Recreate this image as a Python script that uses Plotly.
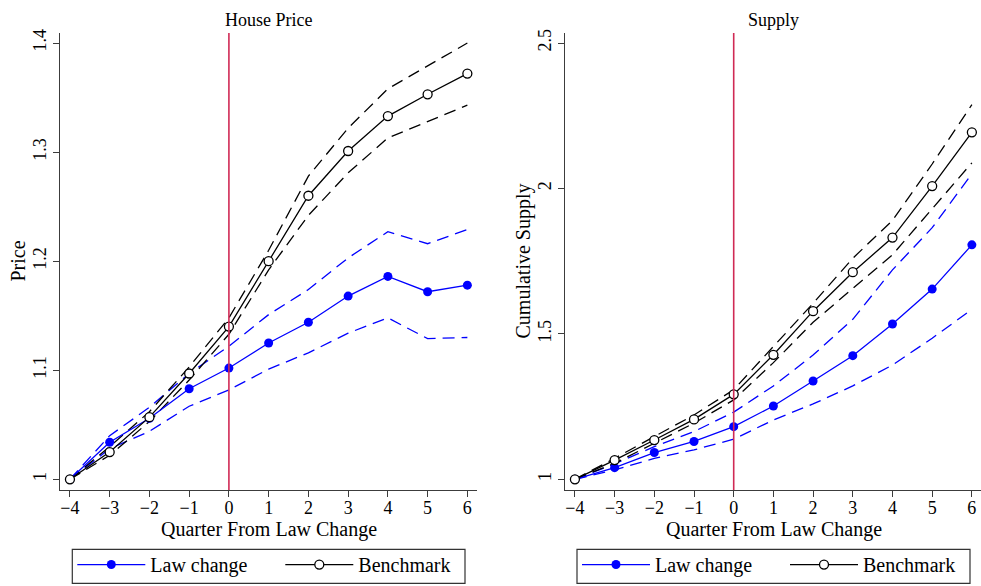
import plotly.graph_objects as go

# Quarters relative to the law change
quarters = [-4, -3, -2, -1, 0, 1, 2, 3, 4, 5, 6]

# House price index (panel 1)
price_law = [1.000, 1.034, 1.056, 1.083, 1.102, 1.125, 1.144, 1.168, 1.186, 1.172, 1.178]
price_law_hi = [1.000, 1.040, 1.066, 1.097, 1.122, 1.151, 1.174, 1.203, 1.227, 1.216, 1.229]
price_law_lo = [1.000, 1.028, 1.044, 1.067, 1.082, 1.101, 1.116, 1.134, 1.148, 1.129, 1.130]
price_bench = [1.000, 1.025, 1.057, 1.097, 1.140, 1.200, 1.260, 1.301, 1.333, 1.353, 1.372]
price_bench_hi = [1.000, 1.030, 1.062, 1.103, 1.148, 1.210, 1.278, 1.322, 1.358, 1.379, 1.400]
price_bench_lo = [1.000, 1.022, 1.053, 1.091, 1.133, 1.192, 1.242, 1.281, 1.313, 1.328, 1.343]

# Cumulative supply (panel 2)
supply_law = [1.000, 1.040, 1.092, 1.130, 1.181, 1.252, 1.338, 1.425, 1.534, 1.654, 1.806]
supply_law_hi = [1.000, 1.053, 1.112, 1.164, 1.231, 1.321, 1.427, 1.550, 1.720, 1.865, 2.050]
supply_law_lo = [1.000, 1.032, 1.072, 1.101, 1.138, 1.204, 1.259, 1.321, 1.393, 1.485, 1.584]
supply_bench = [1.000, 1.066, 1.135, 1.206, 1.292, 1.428, 1.578, 1.712, 1.831, 2.008, 2.193]
supply_bench_hi = [1.000, 1.072, 1.147, 1.221, 1.308, 1.456, 1.605, 1.760, 1.890, 2.084, 2.288]
supply_bench_lo = [1.000, 1.055, 1.124, 1.193, 1.273, 1.401, 1.540, 1.657, 1.772, 1.930, 2.088]

x_ticks = [-4, -3, -2, -1, 0, 1, 2, 3, 4, 5, 6]
price_ticks = [1, 1.1, 1.2, 1.3, 1.4]
price_tick_text = ["1", "1.1", "1.2", "1.3", "1.4"]
supply_ticks = [1, 1.5, 2, 2.5]
supply_tick_text = ["1", "1.5", "2", "2.5"]

panel_titles = ["House Price", "Supply"]
y_titles = ["Price", "Cumulative Supply"]
x_title = "Quarter From Law Change"
series_names = ["Law change", "Benchmark"]

FONT = "Liberation Serif"
BLUE = "#0000ff"
BLACK = "#000000"
VLINE = "#d02a55"
AXIS = "#3c3c3c"
DASH = "12px,7px"

W, H = 981, 586
# Plot area in pixels: x 60..981, y 33.3..490
ML, MT, MB = 60, 33.3, 96
PW, PH = W - ML, H - MT - MB


def px_x(p):
    return (p - ML) / PW


def px_y(p):
    return (H - MB - p) / PH


dom_y = [0, 1]
dom_x1 = [0, px_x(477.3)]
dom_x2 = [px_x(565), 1.0]

fig = go.Figure()


def add_panel(xa, ya, legend, law, law_hi, law_lo, bench, bench_hi, bench_lo):
    for vals, col in [(law_hi, BLUE), (law_lo, BLUE), (bench_hi, BLACK), (bench_lo, BLACK)]:
        fig.add_trace(go.Scatter(
            x=quarters, y=vals, mode="lines", xaxis=xa, yaxis=ya,
            line=dict(color=col, width=1.3, dash=DASH), showlegend=False,
            hoverinfo="skip"))
    fig.add_trace(go.Scatter(
        x=quarters, y=law, mode="lines+markers", xaxis=xa, yaxis=ya,
        name=series_names[0], legend=legend,
        line=dict(color=BLUE, width=1.3),
        marker=dict(color=BLUE, size=9, symbol="circle")))
    fig.add_trace(go.Scatter(
        x=quarters, y=bench, mode="lines+markers", xaxis=xa, yaxis=ya,
        name=series_names[1], legend=legend,
        line=dict(color=BLACK, width=1.3),
        marker=dict(color="white", size=9, symbol="circle",
                    line=dict(color=BLACK, width=1.3))))


add_panel("x", "y", "legend", price_law, price_law_hi, price_law_lo,
          price_bench, price_bench_hi, price_bench_lo)
add_panel("x2", "y2", "legend2", supply_law, supply_law_hi, supply_law_lo,
          supply_bench, supply_bench_hi, supply_bench_lo)

xaxis_common = dict(
    tickmode="array", tickvals=x_ticks, showgrid=False, zeroline=False,
    showline=True, linecolor=AXIS, linewidth=1.2, ticks="outside",
    ticklen=6, tickcolor=AXIS, tickwidth=1.1, automargin=False,
    ticklabelstandoff=-5,
    tickfont=dict(family=FONT, size=18, color="black"))
yaxis_common = dict(
    tickmode="array", showgrid=False, zeroline=False,
    showline=True, linecolor=AXIS, linewidth=1.2, ticks="outside",
    ticklen=6, tickcolor=AXIS, tickwidth=1.1, tickangle=-90, automargin=False,
    tickfont=dict(family=FONT, size=18, color="black"))

legend_common = dict(
    orientation="h", xanchor="left", yanchor="top", borderwidth=0,
    font=dict(family=FONT, size=20), entrywidth=125,
    itemwidth=68, bgcolor="rgba(0,0,0,0)")

fig.update_layout(
    template="none",
    width=W, height=H, margin=dict(l=ML, r=0, t=MT, b=MB, pad=0, autoexpand=False),
    paper_bgcolor="white", plot_bgcolor="white",
    font=dict(family=FONT, color="black"),
    xaxis=dict(xaxis_common, domain=dom_x1, range=[-4.25, 6.25], anchor="y"),
    yaxis=dict(yaxis_common, domain=dom_y, range=[0.9902, 1.4092],
               tickvals=price_ticks, ticktext=price_tick_text, anchor="x"),
    xaxis2=dict(xaxis_common, domain=dom_x2, range=[-4.25, 6.23], anchor="y2"),
    yaxis2=dict(yaxis_common, domain=dom_y, range=[0.9632, 2.5344],
                tickvals=supply_ticks, ticktext=supply_tick_text, anchor="x2"),
    legend=dict(legend_common, x=px_x(72.3), y=px_y(545)),
    legend2=dict(legend_common, x=px_x(577), y=px_y(545)),
)

# Frames around the two legends
for x0, x1 in [(72.3, 465), (577, 970)]:
    fig.add_shape(type="rect", xref="paper", yref="paper",
                  x0=px_x(x0), x1=px_x(x1), y0=px_y(583.3), y1=px_y(549.3),
                  line=dict(color="#333", width=1.2), fillcolor="rgba(0,0,0,0)")

# Vertical marker at the quarter of the law change
for xr, yr in [("x", "y domain"), ("x2", "y2 domain")]:
    fig.add_shape(type="line", xref=xr, yref=yr, x0=0, x1=0, y0=0, y1=1,
                  line=dict(color=VLINE, width=1.6))

# Panel titles and axis titles
centers = [px_x(268.7), px_x(773.5)]
y_title_x = [px_x(17), px_x(523)]
y_mid = 0.5
for i in range(2):
    fig.add_annotation(text=panel_titles[i], xref="paper", yref="paper",
                       x=centers[i], y=px_y(20), showarrow=False,
                       font=dict(family=FONT, size=18), xanchor="center",
                       yanchor="middle")
    fig.add_annotation(text=x_title, xref="paper", yref="paper",
                       x=centers[i], y=px_y(529), showarrow=False,
                       font=dict(family=FONT, size=20), xanchor="center",
                       yanchor="middle")
    fig.add_annotation(text=y_titles[i], xref="paper", yref="paper",
                       x=y_title_x[i], y=y_mid, showarrow=False, textangle=-90,
                       font=dict(family=FONT, size=20), xanchor="center",
                       yanchor="middle")

fig.write_html("out.html")
